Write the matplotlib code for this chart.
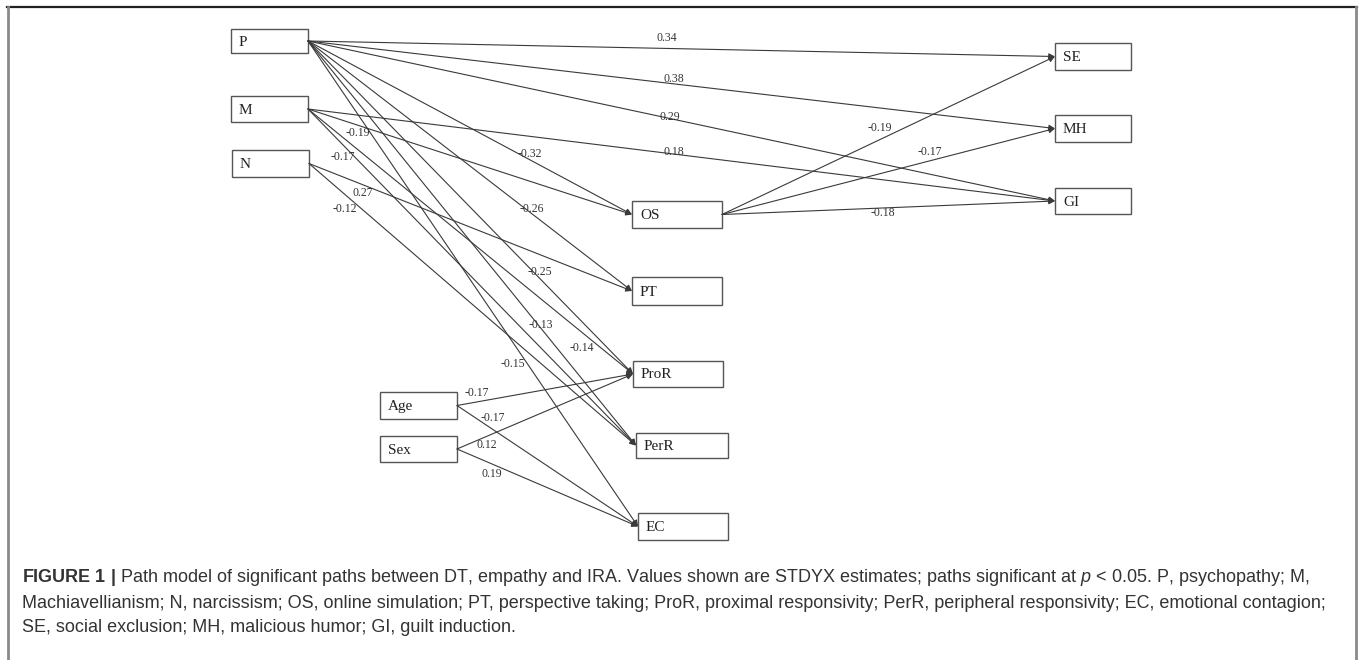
import matplotlib
matplotlib.use("Agg")
import matplotlib.pyplot as plt
from matplotlib.patches import Rectangle

plt.rcParams['mathtext.fontset'] = 'custom'
plt.rcParams['mathtext.rm'] = 'Liberation Sans'
plt.rcParams['mathtext.bf'] = 'Liberation Sans:bold'
plt.rcParams['mathtext.it'] = 'Liberation Sans:italic'

#---------------- model: nodes and significant paths (STDYX) ----------------#
nodes = ["P", "M", "N", "Age", "Sex", "OS", "PT", "ProR", "PerR", "EC", "SE", "MH", "GI"]

path_from = ["P", "P", "P", "P", "P", "P", "P", "P",
             "M", "M", "M", "M", "N", "N",
             "OS", "OS", "OS", "Age", "Age", "Sex", "Sex"]
path_to = ["SE", "MH", "GI", "OS", "PT", "ProR", "PerR", "EC",
           "GI", "OS", "PerR", "ProR", "PT", "PerR",
           "SE", "MH", "GI", "ProR", "EC", "ProR", "EC"]
path_est = [0.34, 0.38, 0.29, -0.32, -0.26, -0.25, -0.13, -0.15,
            0.18, -0.19, -0.17, -0.14, 0.27, -0.12,
            -0.19, -0.17, -0.18, -0.17, -0.17, 0.12, 0.19]

caption = [
    r"$\mathbf{FIGURE\ 1\ |}$ Path model of significant paths between DT, empathy and IRA. Values shown are STDYX estimates; paths significant at $\mathit{p}$ < 0.05. P, psychopathy; M,",
    "Machiavellianism; N, narcissism; OS, online simulation; PT, perspective taking; ProR, proximal responsivity; PerR, peripheral responsivity; EC, emotional contagion;",
    "SE, social exclusion; MH, malicious humor; GI, guilt induction.",
]

#---------------- layout (pixel space) ----------------#
box = {
    "P": (231, 29, 77, 24), "M": (231, 96, 77, 26), "N": (232, 150, 77, 27),
    "Age": (380, 392, 77, 27), "Sex": (380, 436, 77, 26),
    "OS": (632, 201, 90, 27), "PT": (632, 277, 90, 28), "ProR": (633, 361, 90, 26),
    "PerR": (636, 433, 92, 25), "EC": (638, 513, 90, 27),
    "SE": (1055, 43, 76, 27), "MH": (1055, 115, 76, 27), "GI": (1055, 188, 76, 26),
}
# where the estimate sits: fraction along the path, vertical nudge
lab_t = [0.48, 0.49, 0.485, 0.685, 0.69, 0.714, 0.71, 0.62,
         0.49, 0.154, 0.107, 0.843, 0.167, 0.11,
         0.474, 0.625, 0.483, 0.114, 0.2, 0.17, 0.19]
lab_dy = [-10, -5, -2, -6, -4, -7, -3, 22,
          -2, 8, 12, 16, 8, 14,
          -12, -9, 5, -9, -12, 9, 10]

fig = plt.figure(figsize=(13.6, 6.6), dpi=100)
ax = fig.add_axes([0, 0, 1, 1])
ax.set_xlim(0, 1360)
ax.set_ylim(660, 0)
ax.axis('off')

line_col = '#3a3a3a'

for n in nodes:
    x, y, w, h = box[n]
    ax.add_patch(Rectangle((x, y), w, h, fill=False, ec='#555555', lw=1.0))
    ax.text(x + 8, y + h / 2 + 1, n, ha='left', va='center',
            family='Liberation Serif', fontsize=11, color='#222222')

for i in range(len(path_from)):
    sx, sy, sw, sh = box[path_from[i]]
    tx, ty, tw, th = box[path_to[i]]
    x0, y0 = sx + sw, sy + sh / 2
    x1, y1 = tx, ty + th / 2
    ax.annotate('', xy=(x1, y1), xytext=(x0, y0),
                arrowprops=dict(arrowstyle='-|>', mutation_scale=9, lw=0.8,
                                color=line_col, shrinkA=0, shrinkB=0))
    t = lab_t[i]
    lx = x0 + t * (x1 - x0)
    ly = y0 + t * (y1 - y0) + lab_dy[i]
    ax.text(lx, ly, f"{path_est[i]:.2f}", ha='center', va='center',
            family='Liberation Serif', fontsize=8.5, color='#333333')

# frame around the figure
ax.plot([7, 1357], [7, 7], color='#222222', lw=1.6)
ax.plot([8, 8], [7, 660], color='#8a8a8a', lw=2)
ax.plot([1356, 1356], [7, 660], color='#8a8a8a', lw=2)

# caption
cap_y = [577, 603, 628]
for s, y in zip(caption, cap_y):
    ax.text(22, y, s, ha='left', va='center', family='Liberation Sans',
            fontsize=13, color='#333333')

fig.savefig('out.png', dpi=100)
